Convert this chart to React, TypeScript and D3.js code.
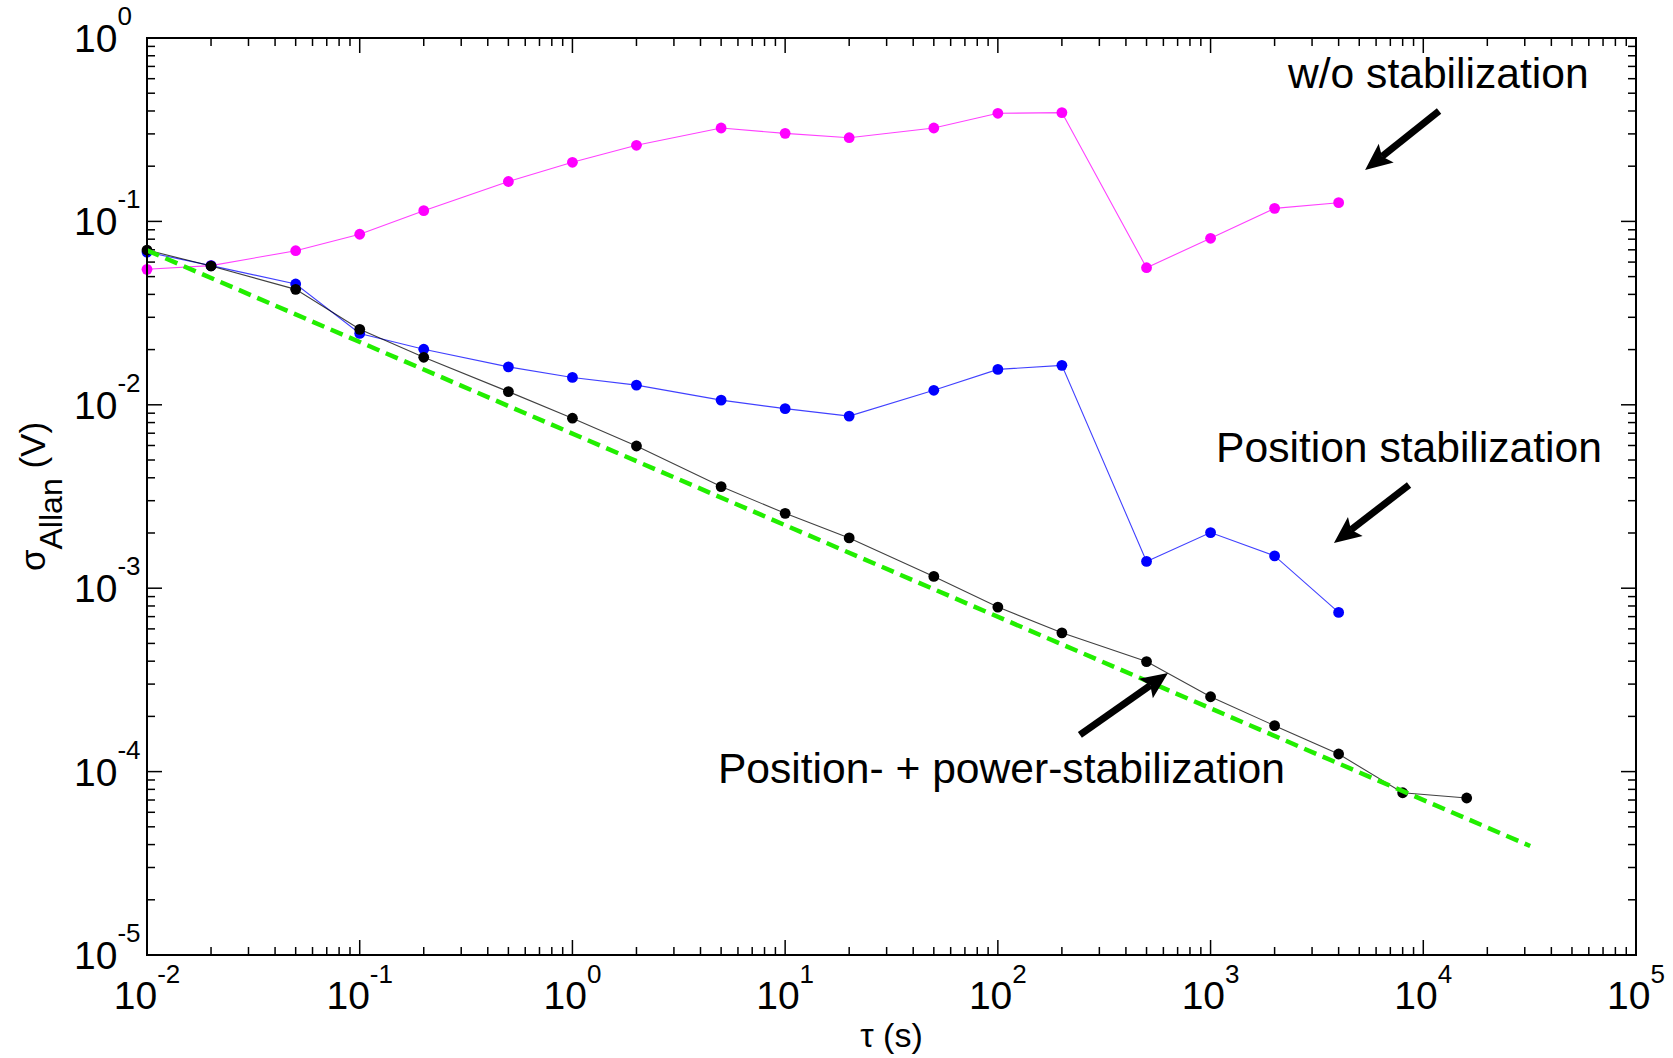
import React from "react";
import * as d3 from "d3";

const tau = [0.01, 0.02, 0.05, 0.1, 0.2, 0.5, 1, 2, 5, 10, 20, 50, 100, 200, 500, 1000, 2000, 4000, 8000, 16000];
const sigmaNoStab = [0.0548, 0.0574, 0.0692, 0.0851, 0.1144, 0.165, 0.21, 0.26, 0.323, 0.302, 0.286, 0.323, 0.3885, 0.392, 0.0559, 0.0809, 0.1178, 0.1265];
const sigmaPos = [0.068, 0.0574, 0.0456, 0.0245, 0.0201, 0.0161, 0.0141, 0.0128, 0.0106, 0.00953, 0.00868, 0.012, 0.0156, 0.01641, 0.0014, 0.00201, 0.0015, 0.000738];
const sigmaPosPow = [0.0698, 0.0571, 0.0426, 0.0258, 0.01816, 0.0118, 0.00845, 0.00596, 0.00358, 0.00256, 0.00188, 0.00116, 0.000789, 0.000571, 0.000398, 0.000256, 0.000178, 0.0001247, 0.0000767, 0.0000718];
const fitTau = [0.01, 31800];
const fitSigma = [0.0695, 0.0000393];

const xExponents = [-2, -1, 0, 1, 2, 3, 4, 5];
const yExponents = [-5, -4, -3, -2, -1, 0];

const annotationTexts = ["w/o stabilization", "Position stabilization", "Position- + power-stabilization"];
const annotationTau = [2312, 1061, 4.83];
const annotationSigma = [0.534, 0.0049, 0.0000867];
const arrowTailTau = [11860, 8570, 243];
const arrowTailSigma = [0.4, 0.003655, 0.0001585];
const arrowTipTau = [5327, 3802, 631];
const arrowTipSigma = [0.1906, 0.001764, 0.000345];

const W = 1673;
const H = 1058;
const M = { left: 147, right: 1636, top: 38, bottom: 955 };
const FONT = "Arial, 'Liberation Sans', Helvetica, sans-serif";

export default function App() {
  const x = d3.scaleLog().domain([1e-2, 1e5]).range([M.left, M.right]);
  const y = d3.scaleLog().domain([1e-5, 1]).range([M.bottom, M.top]);

  const line = d3
    .line<[number, number]>()
    .x((d) => x(d[0]))
    .y((d) => y(d[1]));

  const series = [
    { vals: sigmaNoStab, color: "#FF00FF" },
    { vals: sigmaPos, color: "#0000FF" },
    { vals: sigmaPosPow, color: "#000000" },
  ];

  const xMinor: number[] = [];
  for (let e = -2; e < 5; e++) for (let m = 2; m <= 9; m++) xMinor.push(m * Math.pow(10, e));
  const yMinor: number[] = [];
  for (let e = -5; e < 0; e++) for (let m = 2; m <= 9; m++) yMinor.push(m * Math.pow(10, e));

  const MAJ = 15;
  const MIN = 8;

  const arrows = arrowTailTau.map((_, i) => {
    const x0 = x(arrowTailTau[i]);
    const y0 = y(arrowTailSigma[i]);
    const x1 = x(arrowTipTau[i]);
    const y1 = y(arrowTipSigma[i]);
    const dx = x1 - x0;
    const dy = y1 - y0;
    const len = Math.hypot(dx, dy);
    const ux = dx / len;
    const uy = dy / len;
    const px = -uy;
    const py = ux;
    const hl = 27;
    const hw = 12;
    const bx = x1 - ux * hl;
    const by = y1 - uy * hl;
    const nx = x1 - ux * hl * 0.8;
    const ny = y1 - uy * hl * 0.8;
    const pts = [
      [x1, y1],
      [bx + px * hw, by + py * hw],
      [nx, ny],
      [bx - px * hw, by - py * hw],
    ];
    return { x0, y0, nx, ny, pts };
  });

  return (
    <div style={{ position: "absolute", left: 0, top: 0 }}>
      <svg width={W} height={H} style={{ display: "block", background: "#fff" }}>
        <rect x={0} y={0} width={W} height={H} fill="#fff" />
        {/* ticks */}
        <g stroke="#000" strokeWidth={1.5}>
          {xExponents.map((e) => {
            const xx = x(Math.pow(10, e));
            return (
              <g key={"xM" + e}>
                <line x1={xx} x2={xx} y1={M.bottom} y2={M.bottom - MAJ} />
                <line x1={xx} x2={xx} y1={M.top} y2={M.top + MAJ} />
              </g>
            );
          })}
          {xMinor.map((v, i) => {
            const xx = x(v);
            return (
              <g key={"xm" + i}>
                <line x1={xx} x2={xx} y1={M.bottom} y2={M.bottom - MIN} />
                <line x1={xx} x2={xx} y1={M.top} y2={M.top + MIN} />
              </g>
            );
          })}
          {yExponents.map((e) => {
            const yy = y(Math.pow(10, e));
            return (
              <g key={"yM" + e}>
                <line x1={M.left} x2={M.left + MAJ} y1={yy} y2={yy} />
                <line x1={M.right} x2={M.right - MAJ} y1={yy} y2={yy} />
              </g>
            );
          })}
          {yMinor.map((v, i) => {
            const yy = y(v);
            return (
              <g key={"ym" + i}>
                <line x1={M.left} x2={M.left + MIN} y1={yy} y2={yy} />
                <line x1={M.right} x2={M.right - MIN} y1={yy} y2={yy} />
              </g>
            );
          })}
        </g>

        {/* data series */}
        {series.map((s, si) => {
          const pts: [number, number][] = s.vals.map((v, i) => [tau[i], v]);
          return (
            <g key={"s" + si}>
              <path d={line(pts) || ""} fill="none" stroke={s.color} strokeWidth={1.1} strokeOpacity={0.75} />
              {pts.map((p, i) => (
                <circle key={i} cx={x(p[0])} cy={y(p[1])} r={5.4} fill={s.color} />
              ))}
            </g>
          );
        })}

        {/* fit line */}
        <path
          d={line(fitTau.map((t, i) => [t, fitSigma[i]] as [number, number])) || ""}
          fill="none"
          stroke="#22EE00"
          strokeWidth={4.5}
          strokeDasharray="13,7"
        />

        {/* axes box */}
        <rect
          x={M.left}
          y={M.top}
          width={M.right - M.left}
          height={M.bottom - M.top}
          fill="none"
          stroke="#000"
          strokeWidth={2}
        />

        {/* x tick labels */}
        {xExponents.map((e) => (
          <text
            key={"xl" + e}
            x={x(Math.pow(10, e))}
            y={1009}
            textAnchor="middle"
            fontFamily={FONT}
            fontSize={39}
            fill="#000"
          >
            10
            <tspan dy={-26} fontSize={26}>
              {String(e)}
            </tspan>
          </text>
        ))}

        {/* y tick labels */}
        {yExponents.map((e) => (
          <text
            key={"yl" + e}
            x={74}
            y={y(Math.pow(10, e)) + 14}
            textAnchor="start"
            fontFamily={FONT}
            fontSize={39}
            fill="#000"
          >
            10
            <tspan dy={-27} fontSize={26}>
              {String(e)}
            </tspan>
          </text>
        ))}

        {/* axis titles */}
        <text
          x={(M.left + M.right) / 2}
          y={1047}
          textAnchor="middle"
          fontFamily={FONT}
          fontSize={34}
          fill="#000"
        >
          τ (s)
        </text>
        <text
          transform={`translate(45, ${(M.top + M.bottom) / 2}) rotate(-90)`}
          textAnchor="middle"
          fontFamily={FONT}
          fontSize={35}
          fill="#000"
        >
          σ
          <tspan dy={17} fontSize={32}>
            Allan
          </tspan>
          <tspan dy={-17}> (V)</tspan>
        </text>

        {/* annotations */}
        {annotationTexts.map((t, i) => (
          <text
            key={"a" + i}
            x={x(annotationTau[i])}
            y={y(annotationSigma[i])}
            fontFamily={FONT}
            fontSize={42.6}
            fill="#000"
          >
            {t}
          </text>
        ))}
        {arrows.map((a, i) => (
          <g key={"ar" + i}>
            <line x1={a.x0} y1={a.y0} x2={a.nx} y2={a.ny} stroke="#000" strokeWidth={7} />
            <polygon points={a.pts.map((p) => p.join(",")).join(" ")} fill="#000" />
          </g>
        ))}
      </svg>
    </div>
  );
}
